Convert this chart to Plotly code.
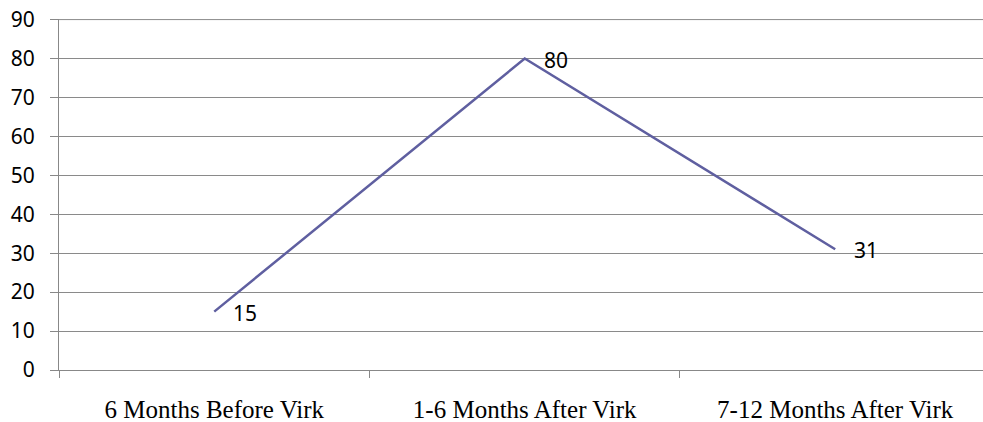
import plotly.graph_objects as go

categories = ["6 Months Before Virk", "1-6 Months After Virk", "7-12 Months After Virk"]
values = [15, 80, 31]
y_ticks = [0, 10, 20, 30, 40, 50, 60, 70, 80, 90]

fig = go.Figure()
fig.add_trace(go.Scatter(
    x=categories, y=values, mode="lines",
    line=dict(color="#5F5FA0", width=2.5),
    hoverinfo="skip", showlegend=False,
))
for c, v in zip(categories, values):
    fig.add_annotation(x=c, y=v, text=str(v), showarrow=False,
                       xanchor="left", yanchor="middle", xshift=17, yshift=-1,
                       font=dict(family="Noto Sans", size=21, color="#000000"))

# gridline at the top tick (plotly omits the gridline at the range edge)
fig.add_shape(type="line", xref="paper", yref="y", x0=0, x1=1,
              y0=y_ticks[-1], y1=y_ticks[-1],
              line=dict(color="#8a8a8a", width=1), layer="below")

fig.update_layout(
    width=983, height=422,
    margin=dict(l=59, r=0, t=19, b=52),
    paper_bgcolor="white", plot_bgcolor="white",
    xaxis=dict(
        type="category", range=[-0.5, 2.476],
        showline=True, linecolor="#888888", linewidth=1,
        ticks="outside", ticklen=7, tickcolor="#888888", tickson="boundaries",
        showgrid=False, zeroline=False,
        tickfont=dict(family="Liberation Serif", size=25, color="#000000"),
        ticklabelstandoff=17,
    ),
    yaxis=dict(
        range=[0, 90.15], tickvals=y_ticks,
        showline=True, linecolor="#888888", linewidth=1,
        ticks="outside", ticklen=8, tickcolor="#888888",
        showgrid=True, gridcolor="#8a8a8a", gridwidth=1,
        zeroline=False,
        tickfont=dict(family="Noto Sans", size=21, color="#000000"),
        ticklabelstandoff=11,
    ),
)
# remove the browser's default 8px body margin so the figure sits at the window origin
fig.write_html("out.html", config={"displayModeBar": False},
               post_script="document.body.style.margin='0px';")
